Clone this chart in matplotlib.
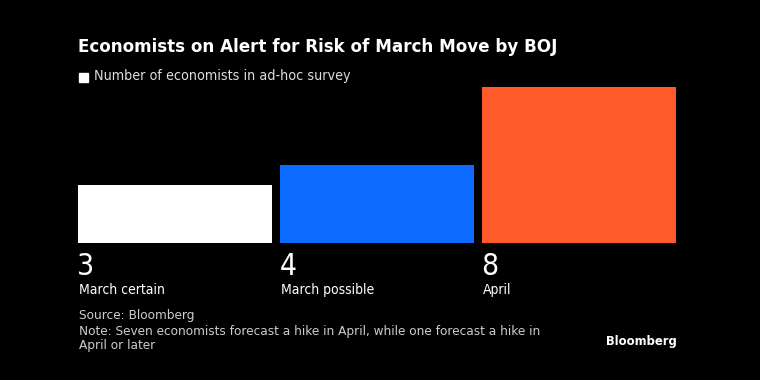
import matplotlib.pyplot as plt
import matplotlib.patches as mpatches

# Dados
categorias = ["March certain", "March possible", "April"]
valores = [3, 4, 8]
cores = ["#ffffff", "#0b6cff", "#ff5a2a"]

titulo = "Economists on Alert for Risk of March Move by BOJ"
legenda = "Number of economists in ad-hoc survey"
fonte = "Source: Bloomberg"
nota = "Note: Seven economists forecast a hike in April, while one forecast a hike in\nApril or later"

fam = ["DejaVu Sans"]
W, H = 760, 380

fig = plt.figure(figsize=(7.6, 3.8), dpi=100, facecolor="black")

# Eixo das barras (em pixels da figura)
x0, x1, y_base, y_top = 78, 676, 243, 87
ax = fig.add_axes([x0 / W, 1 - y_base / H, (x1 - x0) / W, (y_base - y_top) / H])
ax.set_facecolor("black")
larg = 0.96
pos = range(len(valores))
ax.bar(pos, valores, width=larg, color=cores, align="center")
ax.set_xlim(-larg / 2, len(valores) - 1 + larg / 2)
ax.set_ylim(0, max(valores))
ax.axis("off")

# Valores e rótulos abaixo das barras
for i, (v, c) in enumerate(zip(valores, categorias)):
    xl = i - larg / 2
    ax.annotate(str(v), (xl, 0), xytext=(-0.5, -6.5), textcoords="offset points",
                color="white", fontsize=21.5, family=fam, stretch="condensed",
                ha="left", va="top", annotation_clip=False)
    ax.annotate(c, (xl, 0), xytext=(0.5, -29), textcoords="offset points",
                color="white", fontsize=10, family=fam, stretch="condensed",
                ha="left", va="top", annotation_clip=False)

# Título e legenda
fig.text(78 / W, 1 - 46.5 / H, titulo, color="white", fontsize=12.05,
         fontweight="bold", family=fam, va="center", ha="left")
fig.patches.append(mpatches.Rectangle((79 / W, 1 - 82 / H), 9 / W, 9 / H,
                                      transform=fig.transFigure, color="white"))
fig.text(94.5 / W, 1 - 76 / H, legenda, color="#dddddd", fontsize=10.3,
         family=fam, stretch="condensed", va="center", ha="left")

# Fonte e nota
fig.text(79 / W, 1 - 316 / H, fonte, color="#cccccc", fontsize=9.7,
         family=fam, stretch="condensed", va="center", ha="left")
fig.text(79 / W, 1 - 324.5 / H, nota, color="#cccccc", fontsize=9.7,
         family=fam, stretch="condensed", va="top", ha="left", linespacing=1.13)
fig.text(677 / W, 1 - 342 / H, "Bloomberg", color="white", fontsize=9.3,
         fontweight="bold", family=fam, stretch="condensed", va="center", ha="right")

fig.savefig("out.png", dpi=100, facecolor="black")
